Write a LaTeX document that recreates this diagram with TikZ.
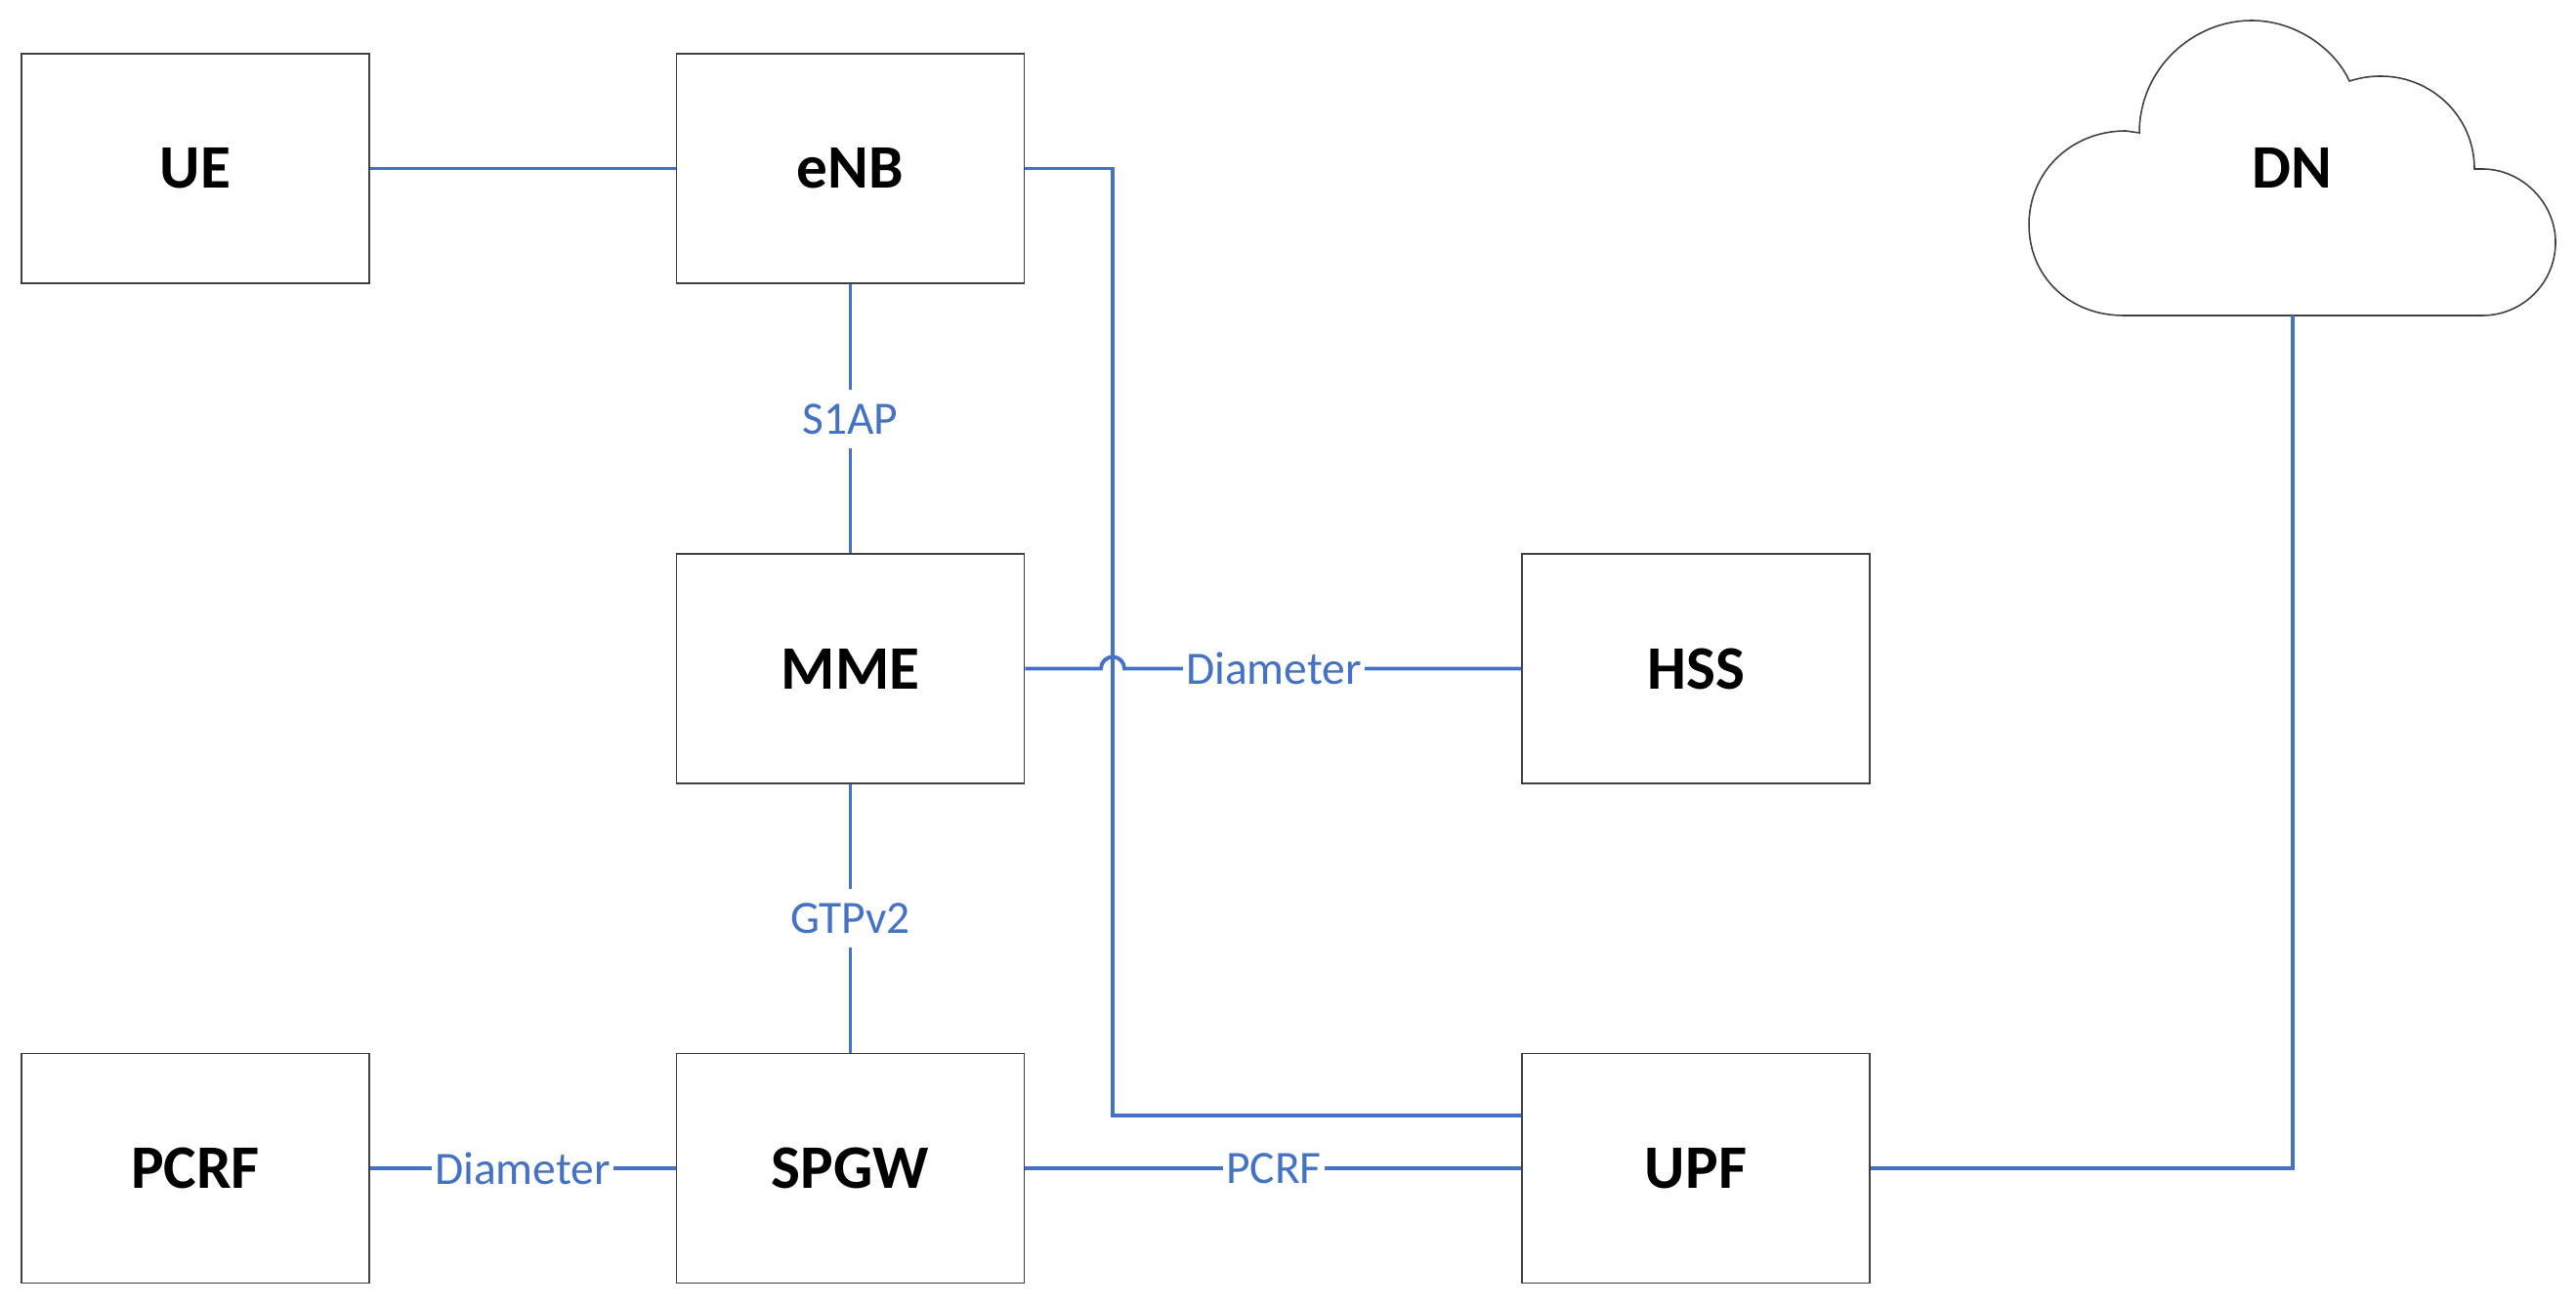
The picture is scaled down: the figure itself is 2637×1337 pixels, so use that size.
\documentclass[tikz,border=0pt]{standalone}
\usepackage{fontspec}
\setmainfont{Carlito}
\definecolor{lineblue}{HTML}{4472C4}
\definecolor{boxgray}{HTML}{404040}
\begin{document}
\begin{tikzpicture}[x=0.01cm,y=-0.01cm,
  nfbox/.style={draw=boxgray,line width=0.45pt,fill=white,minimum width=3.56cm,minimum height=2.35cm,inner sep=0pt,font=\fontsize{18}{20}\selectfont\bfseries},
  conn/.style={draw=lineblue,line width=1.1pt},
  lbl/.style={fill=white,text=lineblue,inner xsep=1pt,inner ysep=3pt,font=\fontsize{13.5}{15}\selectfont},
  vlbl/.style={fill=white,text=lineblue,inner xsep=1pt,inner ysep=4pt,font=\fontsize{13.5}{15}\selectfont}]
\useasboundingbox (0,0) rectangle (2637,1337);
\fill[white] (0,0) rectangle (2637,1337);
% cloud
\draw[boxgray,line width=0.45pt,fill=white]
  (2174,323) .. controls (2118,323) and (2077,283) .. (2077,230)
  .. controls (2077,176) and (2120,134) .. (2176,134) -- (2190,136)
  .. controls (2190,70) and (2245,21) .. (2305,21)
  .. controls (2350,21) and (2390,50) .. (2405,83)
  .. controls (2418,79) and (2428,78) .. (2437,78)
  .. controls (2490,78) and (2533,120) .. (2533,173) -- (2541,173)
  .. controls (2582,173) and (2616,208) .. (2616,248)
  .. controls (2616,290) and (2582,323) .. (2541,323) -- cycle;
\node[font=\fontsize{18}{20}\selectfont\bfseries] (DN) at (2346,172) {DN};
\coordinate (dnb) at (2347,323);
% boxes
\node[nfbox] (UE) at (200,172.5) {UE};
\node[nfbox] (eNB) at (870.5,172.5) {eNB};
\node[nfbox] (MME) at (870.5,684.5) {MME};
\node[nfbox] (HSS) at (1736,684.5) {HSS};
\node[nfbox] (PCRF) at (200,1196) {PCRF};
\node[nfbox] (SPGW) at (870.5,1196) {SPGW};
\node[nfbox] (UPF) at (1736,1196) {UPF};
% connectors
\coordinate (j1) at (1139,172.5);
\coordinate (j2) at (1139,1142);
\coordinate (h1) at (1127,684.5);
\coordinate (u1) at (2347,1196);
\draw[conn] (UE.east) -- (eNB.west);
\draw[conn] (eNB.east) -- (j1) -- (j2) -- (j2 -| UPF.west);
\draw[conn] (eNB.south) -- (MME.north);
\draw[conn] (MME.east) -- (h1) arc[start angle=180,end angle=0,radius=0.12cm] -- (HSS.west);
\draw[conn] (MME.south) -- (SPGW.north);
\draw[conn] (PCRF.east) -- (SPGW.west);
\draw[conn] (SPGW.east) -- (UPF.west);
\draw[conn] (UPF.east) -- (u1) -- (dnb);
% labels
\node[vlbl] (l1) at (870.5,429) {S1AP};
\node[vlbl] (l2) at (870.5,940) {GTPv2};
\node[lbl] (l3) at (1304,684.5) {Diameter};
\node[lbl] (l4) at (535,1196) {Diameter};
\node[lbl] (l5) at (1304,1196) {PCRF};
\end{tikzpicture}
\end{document}
